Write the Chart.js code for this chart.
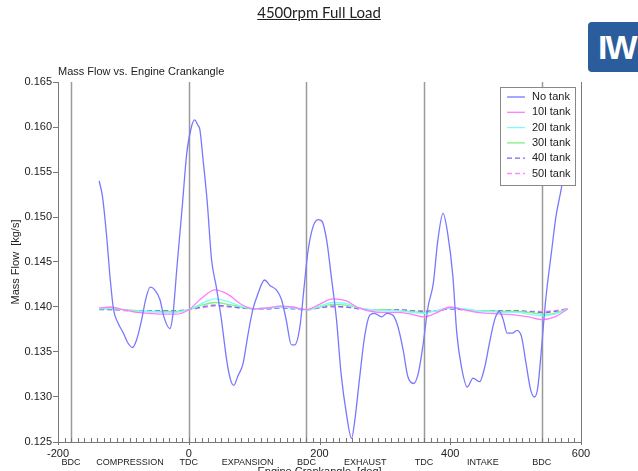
<!DOCTYPE html>
<html>
<head>
<meta charset="utf-8">
<script src="https://cdn.jsdelivr.net/npm/chart.js@4.4.1/dist/chart.umd.min.js"></script>
<style>
  html, body { margin: 0; padding: 0; background: #fff; }
  #wrap { position: relative; width: 638px; height: 471px; overflow: hidden; }
  #page-title {
    position: absolute; left: 0; width: 638px; top: 3px; text-align: center;
    font-family: Lato, "Liberation Sans", sans-serif; font-size: 15px; color: #222;
    text-decoration: underline;
  }
  #logo {
    position: absolute; left: 588px; top: 22px; width: 56px; height: 50px;
    background: #2b5c9c; border-radius: 4px; color: #fff;
    font-family: "Liberation Sans", sans-serif; font-weight: bold; font-size: 34px;
    line-height: 50px; padding-left: 10px; box-sizing: border-box; letter-spacing: -2px;
  }
</style>
</head>
<body>
<div id="wrap">
  <canvas id="chart" width="638" height="471"></canvas>
  <div id="page-title">4500rpm Full Load</div>
  <div id="logo">IW</div>
</div>
<script>
// ---- data ----
const seriesNames = ["No tank", "10l tank", "20l tank", "30l tank", "40l tank", "50l tank"];

const noTankDeg = [-137,-132,-126,-120,-115,-108,-100,-93,-86,-80,-72,-66,-59,-52,-44,-38,-29,-24,-18,-10,-3,4,9,14,17,22,28,35,42,50,58,64,69,75,83,91,98,106,116,124,134,142,149,157,162,170,177,182,190,198,204,211,218,226,233,241,249,254,261,269,277,284,295,303,312,320,328,335,344,351,358,366,374,381,389,396,404,410,417,426,435,445,453,460,468,475,481,487,495,502,509,516,523,529,534,539,546,555,562,570,580];
const noTankFlow = [0.1540,0.1523,0.1482,0.1430,0.1397,0.1382,0.1371,0.1360,0.1355,0.1363,0.1386,0.1408,0.1422,0.1419,0.1408,0.1389,0.1376,0.1393,0.1445,0.1511,0.1571,0.1600,0.1608,0.1602,0.1597,0.1563,0.1519,0.1452,0.1423,0.1386,0.1341,0.1319,0.1313,0.1323,0.1337,0.1371,0.1397,0.1415,0.1430,0.1424,0.1419,0.1408,0.1386,0.1358,0.1358,0.1378,0.1426,0.1460,0.1489,0.1497,0.1495,0.1474,0.1434,0.1386,0.1326,0.1282,0.1254,0.1274,0.1319,0.1367,0.1391,0.1393,0.1389,0.1393,0.1391,0.1378,0.1352,0.1323,0.1315,0.1326,0.1356,0.1400,0.1426,0.1474,0.1504,0.1482,0.1434,0.1371,0.1334,0.1311,0.1321,0.1317,0.1334,0.1360,0.1386,0.1395,0.1386,0.1371,0.1371,0.1374,0.1367,0.1337,0.1308,0.1300,0.1311,0.1349,0.1408,0.1462,0.1502,0.1532,0.1580];

const tankDeg = [-137,-120,-100,-80,-60,-40,-20,0,20,40,60,80,100,120,140,160,180,200,220,240,260,280,300,320,340,360,380,400,420,440,460,480,500,520,540,560,580];
const tank10 = [0.1399,0.1400,0.1397,0.1394,0.1393,0.1392,0.1392,0.1397,0.1410,0.1419,0.1414,0.1403,0.1398,0.1399,0.1401,0.1400,0.1397,0.1403,0.1409,0.1407,0.1399,0.1395,0.1394,0.1394,0.1392,0.1389,0.1394,0.1400,0.1397,0.1394,0.1393,0.1392,0.1391,0.1389,0.1386,0.1389,0.1398];
const tank20 = [0.1398,0.1399,0.1397,0.1395,0.1395,0.1394,0.1394,0.1397,0.1404,0.1409,0.1406,0.1401,0.1398,0.1399,0.1400,0.1399,0.1397,0.1401,0.1405,0.1404,0.1399,0.1397,0.1396,0.1396,0.1394,0.1393,0.1396,0.1399,0.1398,0.1396,0.1395,0.1394,0.1394,0.1392,0.1390,0.1392,0.1398];
const tank30 = [0.1398,0.1398,0.1397,0.1396,0.1395,0.1395,0.1395,0.1397,0.1402,0.1405,0.1403,0.1400,0.1398,0.1399,0.1400,0.1399,0.1397,0.1400,0.1403,0.1402,0.1399,0.1397,0.1397,0.1396,0.1395,0.1394,0.1396,0.1399,0.1398,0.1396,0.1396,0.1395,0.1395,0.1394,0.1392,0.1393,0.1398];
const tank40 = [0.1397,0.1397,0.1397,0.1396,0.1396,0.1396,0.1396,0.1397,0.1400,0.1402,0.1401,0.1399,0.1398,0.1398,0.1399,0.1398,0.1397,0.1399,0.1401,0.1400,0.1398,0.1397,0.1397,0.1397,0.1396,0.1395,0.1396,0.1398,0.1397,0.1396,0.1396,0.1396,0.1396,0.1395,0.1394,0.1395,0.1398];
const tank50 = [0.1398,0.1397,0.1396,0.1395,0.1395,0.1395,0.1395,0.1397,0.1399,0.1401,0.1400,0.1399,0.1398,0.1398,0.1399,0.1399,0.1397,0.1399,0.1400,0.1400,0.1398,0.1397,0.1397,0.1397,0.1396,0.1396,0.1396,0.1398,0.1397,0.1396,0.1396,0.1396,0.1396,0.1395,0.1395,0.1396,0.1398];

const markerDeg = [-180, 0, 180, 360, 540];
const markerLabels = ["BDC", "TDC", "BDC", "TDC", "BDC"];
const phaseDeg = [-90, 90, 270, 450];
const phaseLabels = ["COMPRESSION", "EXPANSION", "EXHAUST", "INTAKE"];

const FONT = '"Liberation Sans", Arial, sans-serif';
const AXIS = "#777";

function pts(xs, ys){ return xs.map((x, i) => ({ x, y: ys[i] })); }

function line(label, data, color, dash){
  return {
    label, data, borderColor: color, borderWidth: 1.3, borderDash: dash || [],
    pointRadius: 0, fill: false, cubicInterpolationMode: "monotone"
  };
}

// draws the BDC/TDC markers, minor ticks, titles and the in-plot legend
const decorations = {
  id: "decorations",
  beforeDatasetsDraw(chart){
    const { ctx, chartArea: a, scales: { x } } = chart;
    ctx.save();
    ctx.strokeStyle = "#9a9a9a";
    ctx.lineWidth = 1.5;
    markerDeg.forEach(d => {
      const px = Math.round(x.getPixelForValue(d)) + 0.5;
      ctx.beginPath(); ctx.moveTo(px, a.top); ctx.lineTo(px, a.bottom); ctx.stroke();
    });
    ctx.strokeStyle = AXIS;
    ctx.lineWidth = 1;
    ctx.beginPath(); ctx.moveTo(a.right + 0.5, a.top); ctx.lineTo(a.right + 0.5, a.bottom); ctx.stroke();
    for (let d = -200; d <= 600; d += 10){
      const px = Math.round(x.getPixelForValue(d)) + 0.5;
      const major = d % 200 === 0;
      ctx.beginPath();
      ctx.moveTo(px, a.bottom - 4);
      ctx.lineTo(px, a.bottom + (major ? 3 : 0));
      ctx.stroke();
    }
    ctx.restore();
  },
  afterDatasetsDraw(chart){
    const { ctx, chartArea: a, scales: { x } } = chart;
    ctx.save();
    // chart title
    ctx.fillStyle = "#222";
    ctx.font = "11px " + FONT;
    ctx.textAlign = "left"; ctx.textBaseline = "alphabetic";
    ctx.fillText("Mass Flow vs. Engine Crankangle", a.left, 75);

    // crank position + stroke labels
    ctx.font = "9px " + FONT;
    ctx.textAlign = "center";
    markerDeg.forEach((d, i) => ctx.fillText(markerLabels[i], x.getPixelForValue(d), 465));
    phaseDeg.forEach((d, i) => ctx.fillText(phaseLabels[i], x.getPixelForValue(d), 465));

    // axis titles
    ctx.font = "11px " + FONT;
    ctx.fillText("Engine Crankangle  [deg]", (a.left + a.right) / 2, 475);
    ctx.translate(19, (a.top + a.bottom) / 2);
    ctx.rotate(-Math.PI / 2);
    ctx.fillText("Mass Flow  [kg/s]", 0, 0);
    ctx.setTransform(1, 0, 0, 1, 0, 0);

    // legend
    const bx = 500, by = 87, bw = 75, bh = 98;
    ctx.fillStyle = "#fff";
    ctx.fillRect(bx, by, bw, bh);
    ctx.strokeStyle = "#888"; ctx.lineWidth = 1;
    ctx.strokeRect(bx + 0.5, by + 0.5, bw, bh);
    ctx.textAlign = "left"; ctx.textBaseline = "middle";
    chart.data.datasets.forEach((ds, i) => {
      const yy = by + 10 + i * 15.3;
      ctx.strokeStyle = ds.borderColor; ctx.lineWidth = 1.3;
      ctx.setLineDash(ds.borderDash);
      ctx.beginPath(); ctx.moveTo(bx + 7, yy); ctx.lineTo(bx + 25, yy); ctx.stroke();
      ctx.setLineDash([]);
      ctx.fillStyle = "#222";
      ctx.fillText(ds.label, bx + 32, yy);
    });
    ctx.restore();
  }
};

new Chart(document.getElementById("chart"), {
  type: "line",
  data: {
    datasets: [
      line(seriesNames[0], pts(noTankDeg, noTankFlow), "#7878ff"),
      line(seriesNames[1], pts(tankDeg, tank10), "#ff7cff"),
      line(seriesNames[2], pts(tankDeg, tank20), "#7ffcfc"),
      line(seriesNames[3], pts(tankDeg, tank30), "#80f080"),
      line(seriesNames[4], pts(tankDeg, tank40), "#6f6ff0", [5, 3]),
      line(seriesNames[5], pts(tankDeg, tank50), "#ff8cff", [5, 3])
    ]
  },
  options: {
    responsive: false,
    animation: false,
    layout: { padding: { left: 0, top: 82, right: 57, bottom: 0 } },
    plugins: { legend: { display: false }, tooltip: { enabled: false } },
    scales: {
      x: {
        type: "linear", min: -200, max: 600,
        grid: { display: false },
        border: { display: true, color: AXIS, width: 1 },
        ticks: { stepSize: 200, padding: -3, color: "#222", font: { family: FONT, size: 11 }, maxRotation: 0 },
        afterFit(s){ s.height = 29; }
      },
      y: {
        min: 0.125, max: 0.165,
        grid: { display: true, drawOnChartArea: false, drawTicks: true, tickLength: 5, color: AXIS },
        border: { display: true, color: AXIS, width: 1 },
        ticks: { stepSize: 0.005, padding: 1, color: "#222", font: { family: FONT, size: 11 },
                 callback: v => v.toFixed(3) },
        afterFit(s){ s.width = 58; }
      }
    }
  },
  plugins: [decorations]
});
</script>
</body>
</html>
